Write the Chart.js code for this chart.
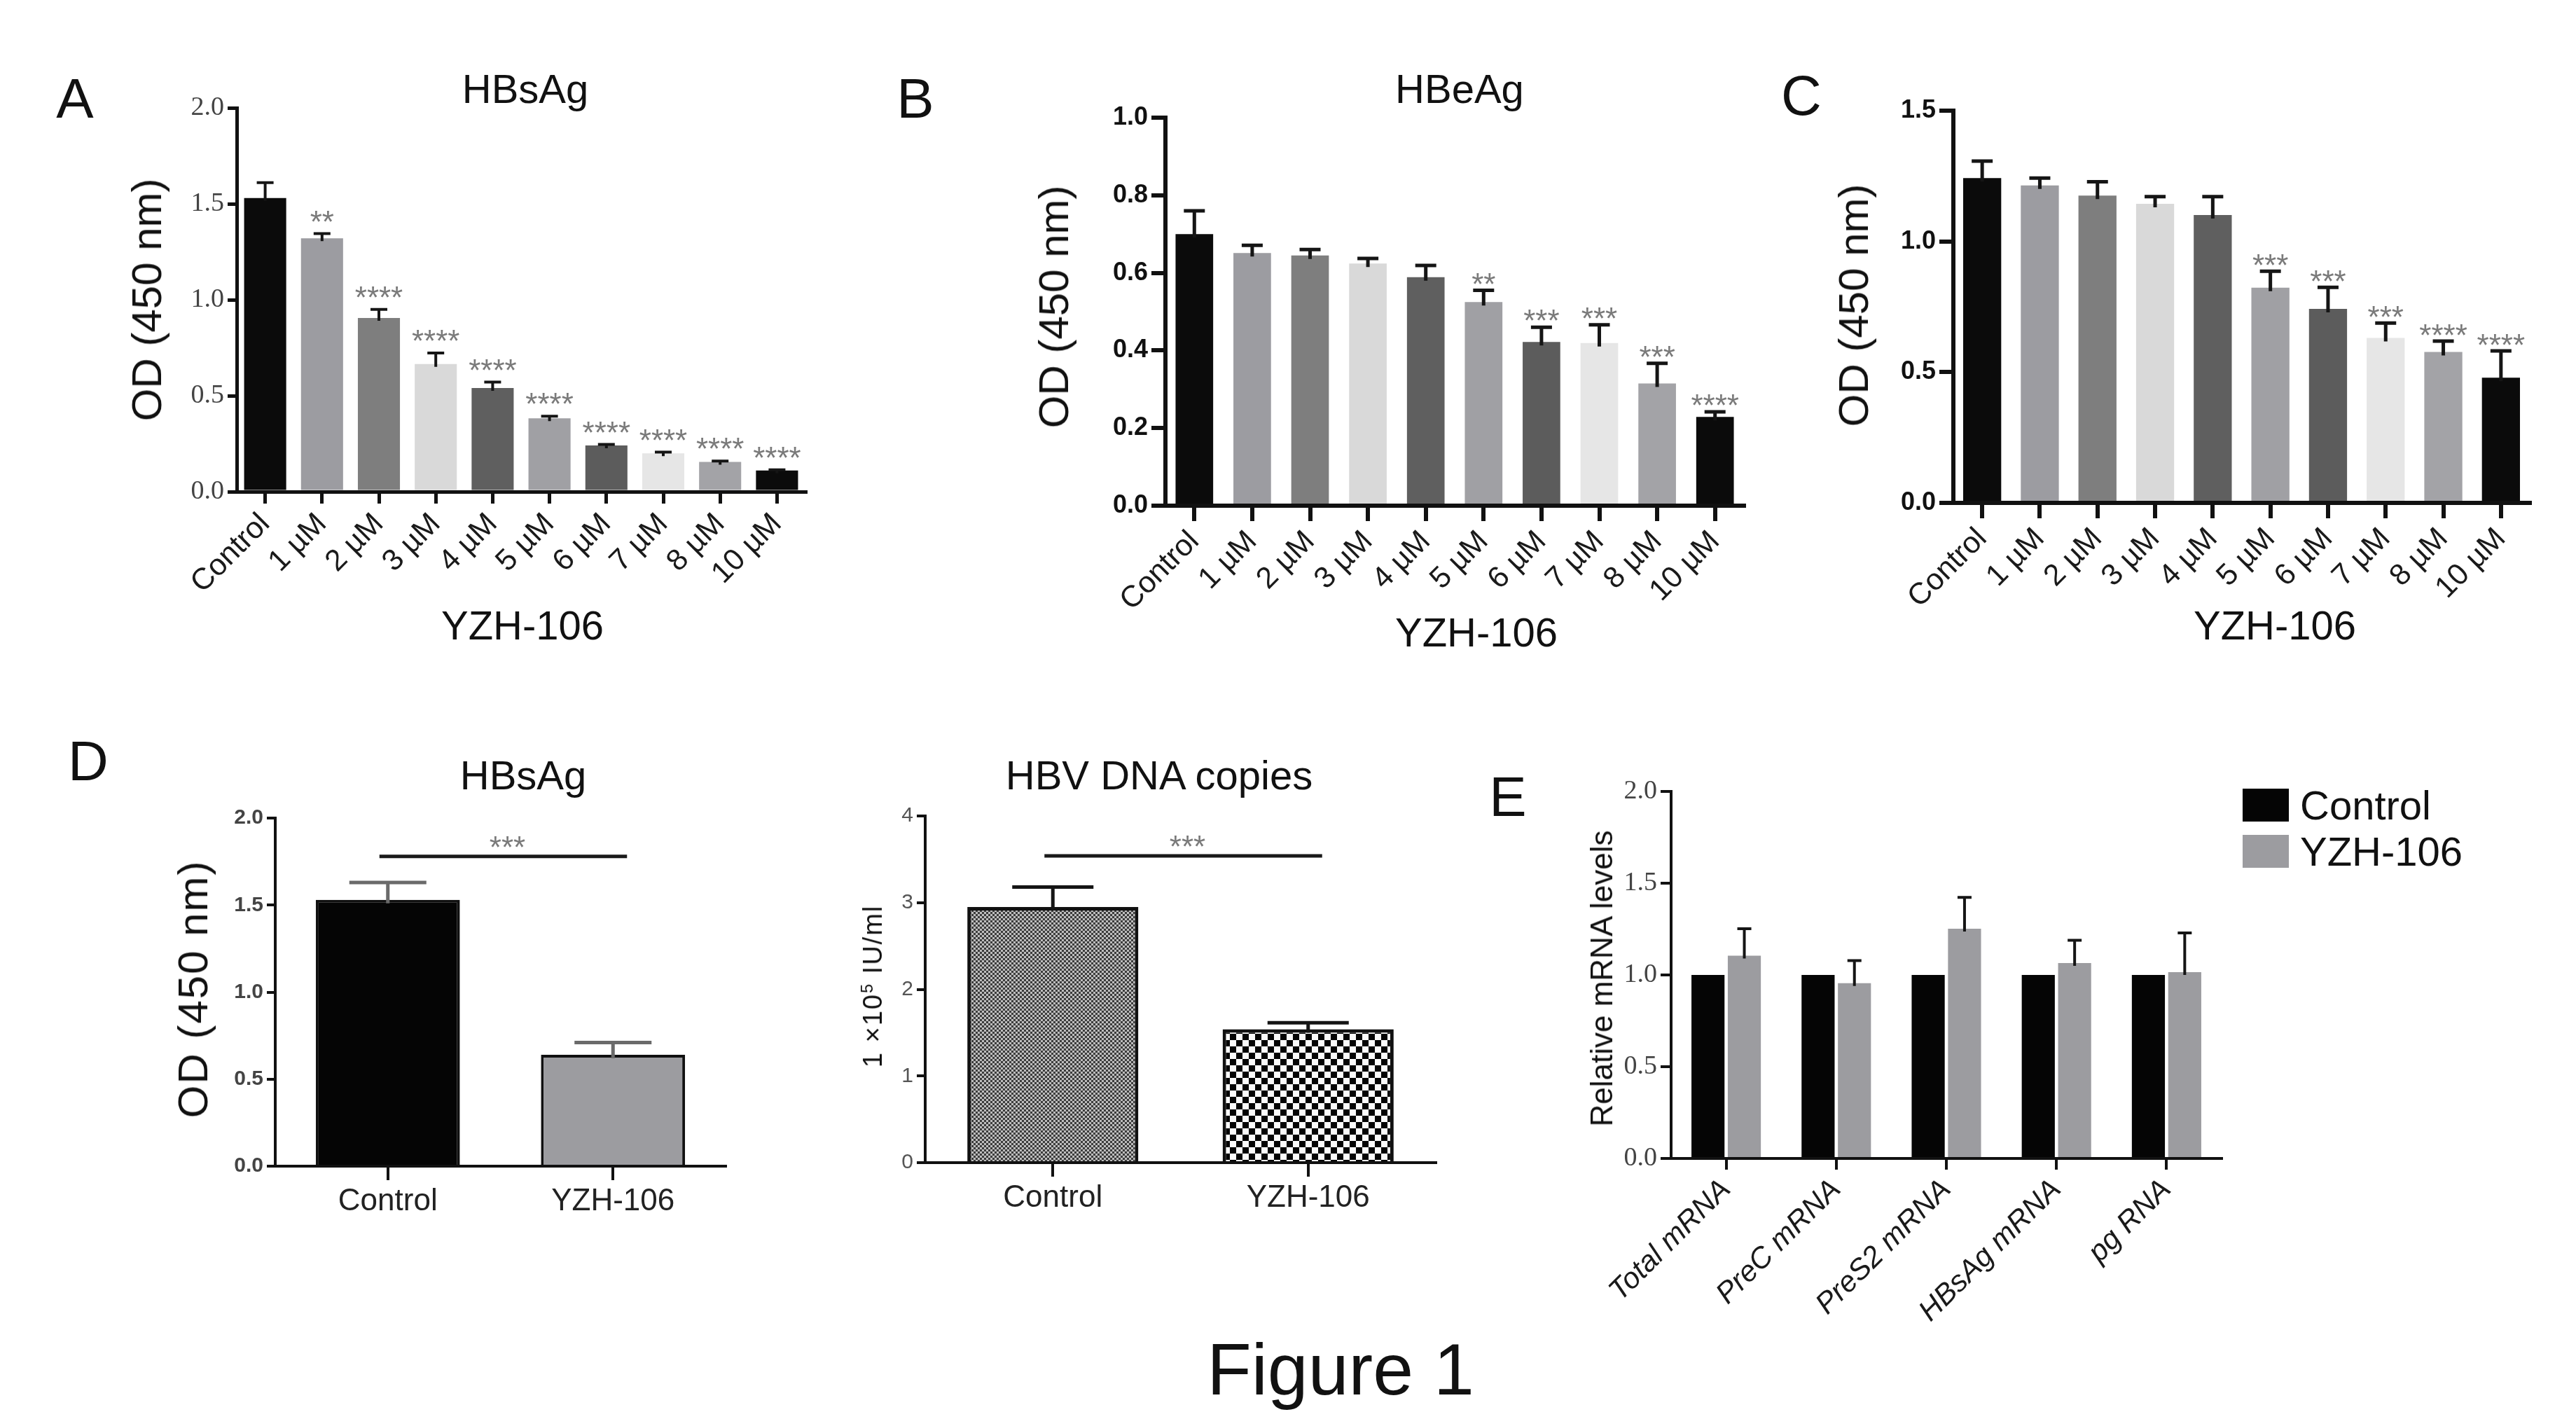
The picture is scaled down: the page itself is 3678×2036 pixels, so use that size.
<!DOCTYPE html>
<html>
<head>
<meta charset="utf-8">
<script src="https://cdn.jsdelivr.net/npm/chart.js@4.4.1/dist/chart.umd.min.js"></script>
<style>
html, body { margin: 0; padding: 0; background: #fff; }
#page { position: relative; width: 3678px; height: 2036px; overflow: hidden;
        font-family: 'Liberation Sans', Arial, sans-serif; color: #111; }
#page canvas { position: absolute; }
.txt { position: absolute; white-space: nowrap; line-height: 1; transform: translate(-50%, -50%); }
.rot { transform: translate(-50%, -50%) rotate(-90deg); }
.box { position: absolute; }
</style>
</head>
<body>
<div id="page"></div>
<script>
// ---- data ----
const doseLabels = ['Control', '1 µM', '2 µM', '3 µM', '4 µM', '5 µM', '6 µM', '7 µM', '8 µM', '10 µM'];

// A: HBsAg
const hbsagMean  = [1.53, 1.32, 0.905, 0.665, 0.54, 0.382, 0.241, 0.20, 0.155, 0.11];
const hbsagErr   = [0.08, 0.025, 0.045, 0.058, 0.031, 0.011, 0.005, 0.006, 0.005, 0.004];
const hbsagStars = ['', '**', '****', '****', '****', '****', '****', '****', '****', '****'];

// B: HBeAg
const hbeagMean  = [0.70, 0.651, 0.645, 0.624, 0.589, 0.525, 0.422, 0.419, 0.315, 0.229];
const hbeagErr   = [0.06, 0.02, 0.015, 0.013, 0.03, 0.03, 0.038, 0.047, 0.052, 0.013];
const hbeagStars = ['', '', '', '', '', '**', '***', '***', '***', '****'];

// C
const panelCMean  = [1.242, 1.214, 1.175, 1.144, 1.101, 0.823, 0.742, 0.631, 0.577, 0.479];
const panelCErr   = [0.065, 0.028, 0.053, 0.027, 0.07, 0.063, 0.082, 0.057, 0.042, 0.102];
const panelCStars = ['', '', '', '', '', '***', '***', '***', '****', '****'];

// D
const groupLabels = ['Control', 'YZH-106'];
const dHbsagMean = [1.53, 0.64];
const dHbsagErr  = [0.10, 0.07];
const dnaMean = [2.95, 1.54];
const dnaErr  = [0.23, 0.075];
const dHbsagBracket = { value: 1.78, label: '***' };
const dnaBracket    = { value: 3.54, label: '***' };

// E
const rnaLabels = ['Total mRNA', 'PreC mRNA', 'PreS2 mRNA', 'HBsAg mRNA', 'pg RNA'];
const rnaControl = [1, 1, 1, 1, 1];
const rnaYzh     = [1.105, 0.955, 1.252, 1.065, 1.015];
const rnaYzhErr  = [0.147, 0.123, 0.171, 0.124, 0.214];
const seriesNames = ['Control', 'YZH-106'];

// ---- styles ----
const doseColors = ['#0b0b0b', '#9c9ca1', '#7e7e7e', '#d9d9d9', '#5f5f5f',
                    '#a0a0a4', '#5c5c5c', '#e6e6e6', '#a3a3a7', '#0b0b0b'];
const grayBar = '#9c9ca0';
const SANS = "'Liberation Sans', Arial, sans-serif";
const SERIF = "'Liberation Serif', 'Times New Roman', serif";

Chart.defaults.font.family = SANS;

const page = document.getElementById('page');

function addText(html, x, y, size, opts) {
  opts = opts || {};
  const d = document.createElement('div');
  d.className = 'txt' + (opts.rot ? ' rot' : '');
  d.innerHTML = html;
  d.style.left = x + 'px';
  d.style.top = y + 'px';
  d.style.fontSize = size + 'px';
  if (opts.style) Object.assign(d.style, opts.style);
  page.appendChild(d);
  return d;
}

// error bars, significance stars and brackets, drawn through the chart's scales
const errorBarPlugin = {
  id: 'errorBars',
  afterDatasetsDraw(chart, args, o) {
    const ctx = chart.ctx;
    const yScale = chart.scales.y;
    ctx.save();
    chart.data.datasets.forEach((ds, di) => {
      const meta = chart.getDatasetMeta(di);
      meta.data.forEach((bar, i) => {
        const err = ds.errors ? ds.errors[i] : 0;
        const top = yScale.getPixelForValue(ds.data[i] + err);
        if (err > 0) {
          ctx.strokeStyle = o.color;
          ctx.lineWidth = o.lineWidth;
          ctx.beginPath();
          ctx.moveTo(bar.x, bar.y + o.lineWidth);
          ctx.lineTo(bar.x, top);
          ctx.moveTo(bar.x - o.capWidth / 2, top);
          ctx.lineTo(bar.x + o.capWidth / 2, top);
          ctx.stroke();
        }
        const star = ds.stars ? ds.stars[i] : '';
        if (star) {
          ctx.font = o.starSize + 'px ' + SANS;
          ctx.fillStyle = o.starColor;
          ctx.textAlign = 'center';
          ctx.textBaseline = 'alphabetic';
          ctx.fillText(star, bar.x, top - o.starGap + o.starSize * 0.57);
        }
      });
    });
    if (o.bracket) {
      const m = chart.getDatasetMeta(0).data;
      const by = yScale.getPixelForValue(o.bracket.value);
      ctx.strokeStyle = '#1a1a1a';
      ctx.lineWidth = 5;
      ctx.beginPath();
      ctx.moveTo(m[0].x - 12, by);
      ctx.lineTo(m[1].x + 20, by);
      ctx.stroke();
      ctx.font = o.starSize + 'px ' + SANS;
      ctx.fillStyle = o.starColor;
      ctx.textAlign = 'center';
      ctx.textBaseline = 'alphabetic';
      ctx.fillText(o.bracket.label, (m[0].x + m[1].x) / 2 + 10, by - o.starGap + o.starSize * 0.57);
    }
    ctx.restore();
  }
};

// place a canvas so that its chart area lands exactly on `area`
function makeChart(area, pad, build) {
  const c = document.createElement('canvas');
  const w = area.r - area.l + pad.l + pad.r;
  const h = area.b - area.t + pad.t + pad.b;
  c.width = w; c.height = h;
  c.style.left = (area.l - pad.l) + 'px';
  c.style.top = (area.t - pad.t) + 'px';
  c.style.width = w + 'px';
  c.style.height = h + 'px';
  page.appendChild(c);
  const cfg = build(c.getContext('2d'));
  cfg.plugins = [errorBarPlugin];
  const op = cfg.options;
  op.responsive = false;
  op.maintainAspectRatio = false;
  op.animation = false;
  op.devicePixelRatio = 1;
  op.layout = { padding: { left: 0, top: pad.t, right: pad.r, bottom: 0 } };
  op.scales.y.afterFit = s => { s.width = pad.l; };
  op.scales.x.afterFit = s => { s.height = pad.b; };
  op.plugins = Object.assign({ legend: { display: false }, tooltip: { enabled: false } }, op.plugins);
  return new Chart(c, cfg);
}

function axisY(max, step, fmt, font, color, tick, lw) {
  return {
    min: 0, max: max,
    ticks: { stepSize: step, callback: v => fmt(v), font: font, color: color, padding: 5 },
    grid: { drawOnChartArea: false, color: '#111', lineWidth: lw, tickLength: tick },
    border: { color: '#111', width: lw }
  };
}
function axisX(font, color, tick, lw, rotate) {
  return {
    z: 1,
    ticks: { autoSkip: false, maxRotation: rotate, minRotation: rotate, font: font, color: color, padding: 4 },
    grid: { drawOnChartArea: false, offset: false, color: '#111', lineWidth: lw, tickLength: tick },
    border: { color: '#111', width: lw }
  };
}
const fix1 = v => v.toFixed(1);
const fix0 = v => v.toFixed(0);

function doseChart(area, mean, err, stars, yMax, yStep, yFont, yColor, barPct, errOpts) {
  return makeChart(area, { l: 150, t: 40, r: 30, b: 175 }, () => ({
    type: 'bar',
    data: {
      labels: doseLabels,
      datasets: [{ data: mean, errors: err, stars: stars, backgroundColor: doseColors,
                   borderWidth: 0, barPercentage: barPct, categoryPercentage: 1 }]
    },
    options: {
      scales: {
        y: axisY(yMax, yStep, fix1, yFont, yColor, errOpts.tickY, errOpts.axisW),
        x: axisX({ size: 43 }, '#1a1a1a', errOpts.tickX, errOpts.axisW, 45)
      },
      plugins: { errorBars: errOpts }
    }
  }));
}

// A
doseChart({ l: 338, t: 154, r: 1150, b: 702 }, hbsagMean, hbsagErr, hbsagStars, 2, 0.5,
  { family: SERIF, size: 38 }, '#444', 0.74,
  { color: '#151515', lineWidth: 4, capWidth: 24, starGap: 27, starSize: 44, starColor: '#7a7a7a',
    tickY: 13, tickX: 17, axisW: 5 });

// B
doseChart({ l: 1664, t: 168, r: 2490, b: 722 }, hbeagMean, hbeagErr, hbeagStars, 1, 0.2,
  { family: SANS, size: 36, weight: 'bold' }, '#111', 0.65,
  { color: '#151515', lineWidth: 5, capWidth: 30, starGap: 19, starSize: 44, starColor: '#7a7a7a',
    tickY: 20, tickX: 22, axisW: 6 });

// C
doseChart({ l: 2789, t: 158, r: 3612, b: 718 }, panelCMean, panelCErr, panelCStars, 1.5, 0.5,
  { family: SANS, size: 36, weight: 'bold' }, '#111', 0.66,
  { color: '#151515', lineWidth: 5, capWidth: 30, starGap: 18, starSize: 44, starColor: '#7a7a7a',
    tickY: 20, tickX: 22, axisW: 6 });

// D left: HBsAg
makeChart({ l: 393, t: 1168, r: 1036, b: 1665 }, { l: 100, t: 40, r: 30, b: 120 }, () => ({
  type: 'bar',
  data: {
    labels: groupLabels,
    datasets: [{ data: dHbsagMean, errors: dHbsagErr, backgroundColor: ['#050505', grayBar],
                 borderColor: '#111', borderWidth: 4, barPercentage: 0.64, categoryPercentage: 1 }]
  },
  options: {
    scales: {
      y: axisY(2, 0.5, fix1, { family: "'Liberation Sans Narrow', " + SANS, size: 30, weight: 'bold' }, '#444', 12, 4),
      x: axisX({ size: 44 }, '#222', 20, 4, 0)
    },
    plugins: { errorBars: { color: '#6a6a6a', lineWidth: 5, capWidth: 110, starGap: 23, starSize: 44,
                            starColor: '#7a7a7a', bracket: dHbsagBracket } }
  }
}));

// D right: HBV DNA copies
function checker(ctx, size, c1, c2) {
  const t = document.createElement('canvas');
  t.width = t.height = size * 2;
  const g = t.getContext('2d');
  g.fillStyle = c1; g.fillRect(0, 0, size * 2, size * 2);
  g.fillStyle = c2; g.fillRect(0, 0, size, size); g.fillRect(size, size, size, size);
  return ctx.createPattern(t, 'repeat');
}
makeChart({ l: 1321, t: 1165, r: 2050, b: 1660 }, { l: 60, t: 40, r: 30, b: 120 }, ctx => ({
  type: 'bar',
  data: {
    labels: groupLabels,
    datasets: [{ data: dnaMean, errors: dnaErr,
                 backgroundColor: [checker(ctx, 3, '#bdbdbd', '#3c3c3c'), checker(ctx, 9, '#fafafa', '#050505')],
                 borderColor: '#111', borderWidth: 5, barPercentage: 0.67, categoryPercentage: 1 }]
  },
  options: {
    scales: {
      y: axisY(4, 1, fix0, { family: "'Liberation Sans Narrow', " + SANS, size: 30 }, '#555', 12, 4),
      x: axisX({ size: 44 }, '#222', 20, 4, 0)
    },
    plugins: { errorBars: { color: '#151515', lineWidth: 5, capWidth: 116, starGap: 23, starSize: 44,
                            starColor: '#7a7a7a', bracket: dnaBracket } }
  }
}));

// E
makeChart({ l: 2386, t: 1130, r: 3172, b: 1654 }, { l: 130, t: 40, r: 30, b: 300 }, () => ({
  type: 'bar',
  data: {
    labels: rnaLabels,
    datasets: [
      { label: seriesNames[0], data: rnaControl, backgroundColor: '#050505',
        barPercentage: 0.91, categoryPercentage: 0.66 },
      { label: seriesNames[1], data: rnaYzh, errors: rnaYzhErr, backgroundColor: grayBar,
        barPercentage: 0.91, categoryPercentage: 0.66 }
    ]
  },
  options: {
    scales: {
      y: axisY(2, 0.5, fix1, { family: SERIF, size: 38 }, '#444', 15, 4),
      x: axisX({ size: 42, style: 'italic' }, '#1a1a1a', 16, 4, 45)
    },
    plugins: { errorBars: { color: '#151515', lineWidth: 4, capWidth: 20, starGap: 0, starSize: 40, starColor: '#808080' } }
  }
}));

// ---- text ----
['A', 'B', 'C', 'D', 'E'].forEach((t, i) => {
  const pos = [[107, 141], [1307, 141], [2572, 137], [126, 1087], [2153, 1138]][i];
  addText(t, pos[0], pos[1], 80);
});
addText('HBsAg', 750, 127, 58);
addText('HBeAg', 2084, 127, 58);
addText('HBsAg', 747, 1107, 58);
addText('HBV DNA copies', 1655, 1107, 58);

addText('OD (450 nm)', 210, 428, 60, { rot: true });
addText('OD (450 nm)', 1505, 438, 60, { rot: true });
addText('OD (450 nm)', 2647, 436, 60, { rot: true });
addText('OD (450 nm)', 276, 1412, 60, { rot: true, style: { letterSpacing: '2px' } });
addText('1 ×10<sup style="font-size:0.62em;vertical-align:0.55em;line-height:0">5</sup> IU/ml', 1246, 1408, 38,
        { rot: true, style: { letterSpacing: '2px' } });
addText('Relative mRNA levels', 2287, 1397, 44, { rot: true });

addText('YZH-106', 746, 893, 58);
addText('YZH-106', 2108, 903, 58);
addText('YZH-106', 3248, 893, 58);

// legend for E
[['#050505', 1126], [grayBar, 1192]].forEach((s, i) => {
  const b = document.createElement('div');
  b.className = 'box';
  Object.assign(b.style, { left: '3202px', top: s[1] + 'px', width: '66px', height: '47px', background: s[0] });
  page.appendChild(b);
  addText(seriesNames[i], 3284, s[1] + 24, 58, { style: { transform: 'translate(0,-50%)' } });
});

addText('Figure 1', 1914, 1955, 104);
</script>
</body>
</html>
